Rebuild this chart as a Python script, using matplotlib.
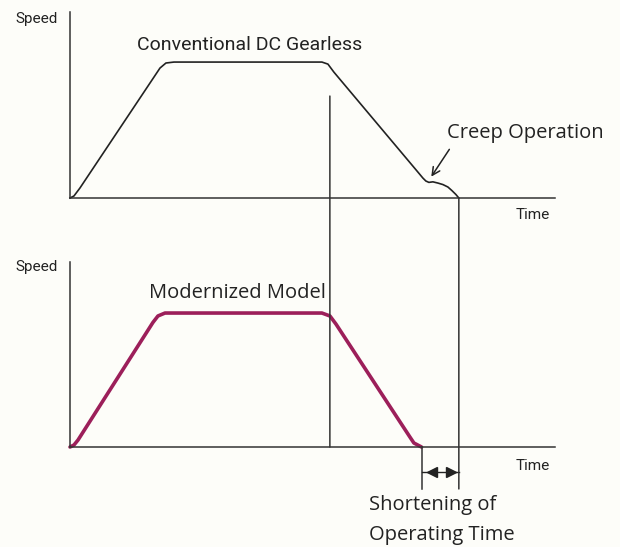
#speed profile comparison: conventional DC gearless vs modernized model
import numpy as np
import matplotlib.pyplot as plt
from matplotlib.patches import ConnectionPatch

#conventional curve (time, speed) incl. creep section near the stop
conv_time = [0, 0.082, 0.206, 1.856, 1.979, 2.144, 5.196, 5.320, 5.443,
             7.175, 7.278, 7.340, 7.402, 7.485, 7.588, 7.691, 7.794, 7.876, 7.959, 8.02]
conv_speed = [0, 0.015, 0.074, 0.956, 0.993, 1.0, 1.0, 0.985, 0.926,
              0.191, 0.147, 0.125, 0.115, 0.119, 0.110, 0.099, 0.081, 0.055, 0.026, 0]

#modernized model curve
mod_time = [0, 0.082, 0.165, 1.711, 1.814, 1.959, 5.196, 5.361, 5.485, 7.010, 7.093, 7.25]
mod_speed = [0, 0.015, 0.052, 0.93, 0.978, 1.0, 1.0, 0.978, 0.918, 0.075, 0.030, 0]

#reference times
decel_start = 5.36
conv_stop = 8.02
mod_stop = 7.25

plt.rcParams['font.family'] = ['Roboto', 'DejaVu Sans']
wide = ['Open Sans', 'DejaVu Sans']
line_col = '#333333'
txt = '#222222'
mod_col = '#9c1f5a'
bg = '#fdfdf9'

fig = plt.figure(figsize=(6.2, 5.47), dpi=100, facecolor=bg)
ax1 = fig.add_axes([0.1129, 0.638, 0.782, 0.340])
ax2 = fig.add_axes([0.1129, 0.1828, 0.782, 0.338])

for ax, top in ((ax1, 1.368), (ax2, 1.38)):
    ax.set_facecolor(bg)
    ax.set_xlim(0, 10)
    ax.set_ylim(0, top)
    ax.spines['top'].set_visible(False)
    ax.spines['right'].set_visible(False)
    ax.spines['left'].set_color(line_col)
    ax.spines['bottom'].set_color(line_col)
    ax.spines['left'].set_linewidth(1.1)
    ax.spines['bottom'].set_linewidth(1.1)
    ax.set_xticks([])
    ax.set_yticks([])

ax1.plot(conv_time, conv_speed, color=txt, linewidth=1.2, clip_on=False)
ax2.plot(mod_time, mod_speed, color=mod_col, linewidth=2.6, clip_on=False,
         solid_capstyle='round', solid_joinstyle='round')

#labels
ax1.text(-0.25, 1.32, 'Speed', ha='right', va='center', fontsize=11, color=txt)
ax2.text(-0.25, 1.343, 'Speed', ha='right', va='center', fontsize=11, color=txt)
ax1.text(9.55, -0.125, 'Time', ha='center', va='center', fontsize=11, color=txt, clip_on=False)
ax2.text(9.55, -0.142, 'Time', ha='center', va='center', fontsize=11, color=txt, clip_on=False)
ax1.text(3.71, 1.125, 'Conventional DC Gearless', ha='center', va='center', fontsize=14, color=txt)
ax2.text(3.46, 1.149, 'Modernized Model', ha='center', va='center', fontsize=14.5,
         family=wide, color=txt)
ax1.text(7.77, 0.478, 'Creep Operation', ha='left', va='center', fontsize=14.5,
         family=wide, color=txt, clip_on=False)
ax1.annotate('', xy=(7.42, 0.14), xytext=(7.856, 0.375),
             arrowprops=dict(arrowstyle='->', color=txt, lw=1.1, mutation_scale=14))
ax2.text(6.165, -0.433, 'Shortening of', ha='left', va='center', fontsize=14.5,
         family=wide, color=txt, clip_on=False)
ax2.text(6.165, -0.657, 'Operating Time', ha='left', va='center', fontsize=14.5,
         family=wide, color=txt, clip_on=False)

#vertical guide lines spanning both panels
fig.add_artist(ConnectionPatch(xyA=(decel_start, 0.75), coordsA=ax1.transData,
                               xyB=(decel_start, 0), coordsB=ax2.transData,
                               color=line_col, lw=1.1))
fig.add_artist(ConnectionPatch(xyA=(conv_stop, 0), coordsA=ax1.transData,
                               xyB=(conv_stop, -0.313), coordsB=ax2.transData,
                               color=line_col, lw=1.1))
ax2.plot([mod_stop, mod_stop], [0, -0.313], color=line_col, lw=1.1, clip_on=False)

#shortening arrows
ax2.plot([mod_stop, conv_stop], [-0.187, -0.187], color=txt, lw=1.0, clip_on=False)
ax2.plot([7.46], [-0.187], marker='<', color=txt, markersize=7, clip_on=False)
ax2.plot([7.86], [-0.187], marker='>', color=txt, markersize=7, clip_on=False)

plt.savefig('out.png', dpi=100, facecolor=bg)
